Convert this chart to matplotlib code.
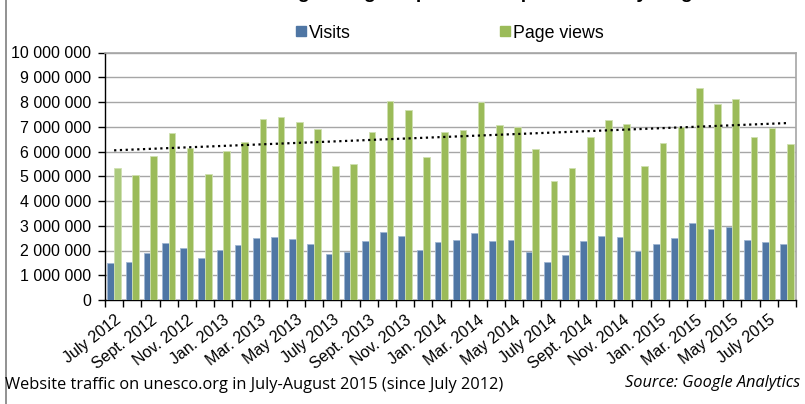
import matplotlib.pyplot as plt
import numpy as np
from matplotlib.lines import Line2D
from matplotlib.ticker import FuncFormatter

# monthly figures, July 2012 .. August 2015
months = ['July 2012', 'Aug. 2012', 'Sept. 2012', 'Oct. 2012', 'Nov. 2012', 'Dec. 2012',
          'Jan. 2013', 'Feb. 2013', 'Mar. 2013', 'Apr. 2013', 'May 2013', 'June 2013',
          'July 2013', 'Aug. 2013', 'Sept. 2013', 'Oct. 2013', 'Nov. 2013', 'Dec. 2013',
          'Jan. 2014', 'Feb. 2014', 'Mar. 2014', 'Apr. 2014', 'May 2014', 'June 2014',
          'July 2014', 'Aug. 2014', 'Sept. 2014', 'Oct. 2014', 'Nov. 2014', 'Dec. 2014',
          'Jan. 2015', 'Feb. 2015', 'Mar. 2015', 'Apr. 2015', 'May 2015', 'June 2015',
          'July 2015', 'Aug. 2015']
visits = [1.48, 1.53, 1.89, 2.31, 2.09, 1.71, 2.02, 2.24, 2.52, 2.55, 2.48, 2.27,
          1.85, 1.93, 2.38, 2.75, 2.60, 2.01, 2.33, 2.41, 2.72, 2.40, 2.43, 1.93,
          1.52, 1.83, 2.40, 2.60, 2.56, 1.98, 2.25, 2.49, 3.11, 2.88, 2.96, 2.44,
          2.33, 2.26]
page_views = [5.34, 5.04, 5.81, 6.75, 6.16, 5.08, 6.04, 6.39, 7.30, 7.40, 7.18, 6.90,
              5.40, 5.50, 6.79, 8.03, 7.68, 5.79, 6.80, 6.87, 7.98, 7.07, 6.98, 6.12,
              4.81, 5.32, 6.60, 7.28, 7.12, 5.42, 6.35, 7.01, 8.56, 7.92, 8.11, 6.60,
              6.93, 6.29]
visits = np.array(visits) * 1e6
page_views = np.array(page_views) * 1e6

blue = '#4f76a4'
green = '#9bbb59'

fig = plt.figure(figsize=(8.05, 4.04), dpi=100)
ax = fig.add_axes([105/805, 1 - 300/404, 691/805, 247.5/404])

x = np.arange(len(months))
w = 0.365
gcol = [green] * len(months)
gcol[0] = '#abc97c'
ax.bar(x - w/2, visits, w, color=blue, edgecolor='#9fb6d3', linewidth=0.6, zorder=3)
ax.bar(x + w/2, page_views, w, color=gcol, edgecolor='#cfe0b0', linewidth=0.6, zorder=3)

# linear trend on page views
k, b = np.polyfit(x, page_views, 1)
ax.plot(x, k * x + b, color='black', linestyle=(0, (1, 1.6)), linewidth=1.6, zorder=4)

ax.set_xlim(-0.5, len(months) - 0.5)
ax.set_ylim(0, 10e6)
ax.set_yticks(np.arange(0, 10e6 + 1, 1e6))
ax.yaxis.set_major_formatter(FuncFormatter(lambda v, p: format(int(v), ',').replace(',', ' ')))
ax.grid(axis='y', color='#a6a6a6', linewidth=1, zorder=0)

ax.set_xticks(x[::2])
ax.set_xticklabels(months[::2], rotation=38, ha='right', rotation_mode='anchor')
ax.set_xticks(np.arange(-0.5, len(months), 1), minor=True)
ax.tick_params(axis='x', which='major', length=0, pad=9)
ax.tick_params(axis='x', which='minor', length=5, width=1, color='black')
ax.tick_params(axis='y', length=5, width=1, pad=5)
for lab in ax.get_xticklabels() + ax.get_yticklabels():
    lab.set_fontfamily('Liberation Sans')
    lab.set_fontsize(11.5)

for s in ['left', 'bottom']:
    ax.spines[s].set_color('black')
    ax.spines[s].set_linewidth(1)
for s in ['top', 'right']:
    ax.spines[s].set_color('#a6a6a6')
    ax.spines[s].set_linewidth(1.2)

handles = [Line2D([], [], marker='s', linestyle='', color=blue, markersize=7.5),
           Line2D([], [], marker='s', linestyle='', color=green, markersize=7.5)]
fig.legend(handles, ['Visits', 'Page views'], loc='center', bbox_to_anchor=(449/805, 1 - 33/404),
           ncol=2, frameon=False, columnspacing=8.3, handletextpad=0.1, handlelength=0.7,
           prop={'family': 'Liberation Sans', 'size': 12.8})

# title, clipped by the top edge of the picture
fig.text(0.53, 1 + 2/404, 'Traffic on unesco.org during the period compared to daily magazine',
         ha='center', va='baseline', fontsize=14, fontweight='bold', family='Liberation Sans')

fig.text(5/805, 1 - 385/404, 'Website traffic on unesco.org in July-August 2015 (since July 2012)',
         ha='left', va='center', fontsize=11.8, family='Open Sans')
fig.text(800/805, 1 - 383/404, 'Source: Google Analytics', ha='right', va='center',
         fontsize=11.8, style='italic', family='Open Sans')

fig.add_artist(Line2D([6/805, 6/805], [0, 1], color='#7f7f7f', linewidth=1.2))

fig.savefig('out.png', dpi=100)
